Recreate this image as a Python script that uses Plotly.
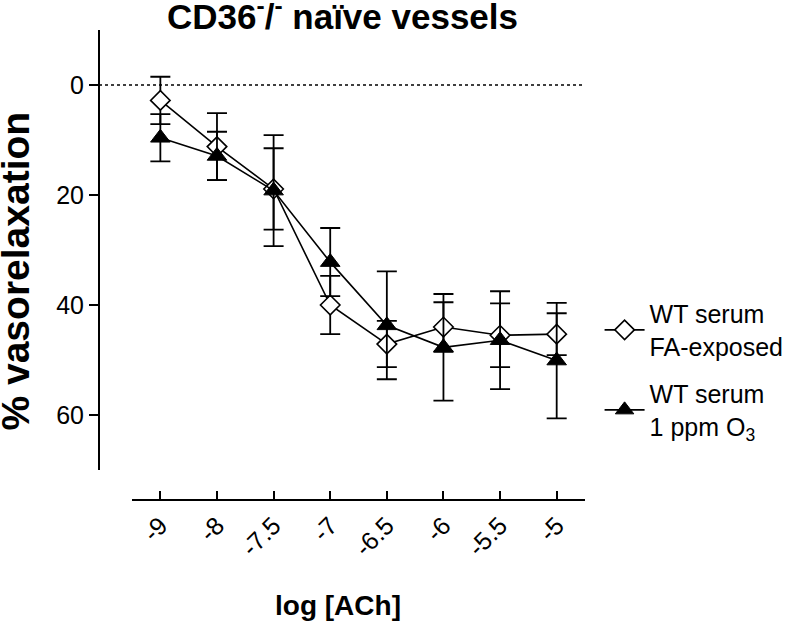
import plotly.graph_objects as go

# ---- data ----
log_ach = ["-9", "-8", "-7.5", "-7", "-6.5", "-6", "-5.5", "-5"]
fa_mean = [2.8, 11.2, 18.9, 40.0, 47.1, 44.0, 45.5, 45.3]
fa_sem = [4.3, 6.1, 7.4, 5.3, 4.2, 4.5, 5.8, 3.8]
o3_mean = [9.6, 12.9, 19.2, 32.2, 43.7, 47.7, 46.4, 50.1]
o3_sem = [4.3, 4.4, 10.1, 6.2, 9.8, 9.7, 8.9, 10.5]
y_ticks = [0, 20, 40, 60]

FONT = "Liberation Sans, Arial, Helvetica, sans-serif"

fig = go.Figure()
fig.add_trace(go.Scatter(
    x=log_ach, y=fa_mean, mode="lines+markers",
    name="WT serum<br>FA-exposed", legendgroup="fa",
    line=dict(color="black", width=1.6),
    marker=dict(symbol="diamond", size=15, color="white",
                line=dict(color="black", width=1.6)),
    error_y=dict(type="data", array=fa_sem, visible=True,
                 color="black", thickness=1.8, width=10),
))
fig.add_trace(go.Scatter(
    x=log_ach, y=o3_mean, mode="lines+markers",
    name="WT serum<br>1 ppm O<sub>3</sub>", legendgroup="o3",
    line=dict(color="black", width=1.6),
    marker=dict(symbol="triangle-up", size=17, color="black",
                line=dict(color="black", width=1)),
    error_y=dict(type="data", array=o3_sem, visible=True,
                 color="black", thickness=1.8, width=10),
))

fig.add_shape(type="line", xref="paper", yref="y", x0=0, x1=1, y0=0, y1=0,
              line=dict(color="black", width=1.3, dash="dot"), layer="below")

fig.update_layout(
    width=800, height=627,
    margin=dict(l=99, r=215, t=30, b=127, autoexpand=False),
    paper_bgcolor="white", plot_bgcolor="white",
    font=dict(family=FONT, color="black"),
    showlegend=True,
    legend=dict(x=1.03, xanchor="left", y=0.445, yanchor="top",
                itemwidth=40,
                font=dict(size=25, family=FONT, color="black"),
                tracegroupgap=12, bgcolor="rgba(0,0,0,0)"),
    xaxis=dict(type="category", range=[-0.5, 7.5], domain=[0.068, 1],
               anchor="free", position=0,
               showline=True, linecolor="black", linewidth=2,
               ticks="inside", ticklen=8, tickwidth=2, tickcolor="black",
               tickangle=-45, tickfont=dict(size=25, family=FONT, color="black"),
               showgrid=False, zeroline=False),
    yaxis=dict(range=[70, -10], domain=[0.0638, 1],
               anchor="free", position=0,
               showline=True, linecolor="black", linewidth=2,
               ticks="outside", ticklen=9, tickwidth=2, tickcolor="black",
               tickvals=y_ticks, ticktext=[str(v) for v in y_ticks],
               tickfont=dict(size=25, family=FONT, color="black"),
               showgrid=False, zeroline=False),
    annotations=[
        dict(text="<b>CD36<sup>-</sup>/<sup>-</sup> naïve vessels</b>",
             xref="paper", yref="paper", x=0.502, y=1.034,
             xanchor="center", yanchor="middle", showarrow=False,
             font=dict(size=35, family=FONT, color="black")),
        dict(text="<b>% vasorelaxation</b>", textangle=-90,
             xref="paper", yref="paper", x=-0.172, y=0.487,
             xanchor="center", yanchor="middle", showarrow=False,
             font=dict(size=39, family=FONT, color="black")),
        dict(text="<b>log [ACh]</b>",
             xref="paper", yref="paper", x=0.492, y=-0.225,
             xanchor="center", yanchor="middle", showarrow=False,
             font=dict(size=28, family=FONT, color="black")),
    ],
)

# remove the default 8px page margin so the figure fills the window exactly
fig.write_html("out.html", config={"displayModeBar": False},
               post_script="document.body.style.margin='0';")
